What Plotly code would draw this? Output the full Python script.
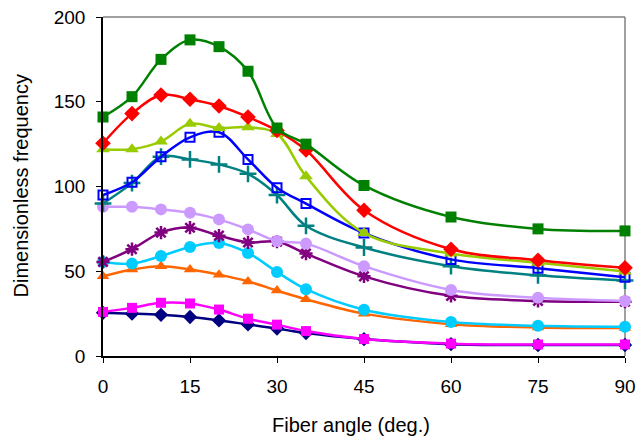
import plotly.graph_objects as go

angles = [0, 5, 10, 15, 20, 25, 30, 35, 45, 60, 75, 90]

navy = [25.5, 25, 24.3, 23, 21, 18.6, 16.2, 13.5, 10, 7, 6.5, 6.5]
magenta = [26, 28.4, 31.4, 31, 27.4, 22, 18.5, 14.7, 10, 7.3, 6.8, 6.8]
orange = [47, 51, 53, 51, 48, 44, 38.6, 33.5, 25, 18.8, 16.8, 16.5]
cyan = [55.5, 54.5, 59, 64.3, 66.7, 60.8, 49.6, 39.4, 27.3, 20, 17.8, 17.2]
purple = [55.5, 63, 72.8, 75.7, 71, 67, 67.5, 60.4, 47, 35.5, 32.5, 32]
lavender = [88, 88, 86.5, 84.5, 80.6, 74.7, 67.8, 66.3, 53, 39, 34.3, 32.5]
teal = [90, 102, 117.6, 116, 113, 107.5, 95, 76.8, 64, 53, 47.6, 44.5]
blue = [95, 102.5, 117.6, 129, 132, 116, 99.3, 89.9, 72.5, 57, 51.8, 46.5]
yellowgreen = [122, 122, 126.6, 137, 134.5, 135, 131, 106, 72.5, 60.5, 55, 49.8]
red = [125.5, 143, 154, 151.5, 147.5, 141, 133, 121.5, 86, 63, 56.5, 52]
green = [141, 153, 175, 186.5, 182.5, 168, 134.5, 125, 100.6, 82, 75, 73.8]

series = [
    (navy, "#000080", "diamond", 11, 0),
    (magenta, "#FF00FF", "square", 10, 0),
    (orange, "#FF6600", "triangle-up", 11, 0),
    (cyan, "#00CCFF", "circle", 12, 0),
    (purple, "#800080", "asterisk-open", 11, 2.5),
    (lavender, "#CC99FF", "circle", 12, 0),
    (teal, "#008080", "cross-thin-open", 12, 2.5),
    (blue, "#0000FF", "square-open", 9, 2),
    (yellowgreen, "#99CC00", "triangle-up", 12, 0),
    (red, "#FF0000", "diamond", 12, 0),
    (green, "#008000", "square", 11, 0),
]

fig = go.Figure()
for vals, col, sym, sz, lw in series:
    fig.add_trace(go.Scatter(
        x=angles, y=vals, mode="lines+markers",
        line=dict(color=col, width=2.5, shape="spline", smoothing=1),
        marker=dict(symbol=sym, size=sz, color=col, line=dict(color=col, width=lw)),
        cliponaxis=False, showlegend=False,
    ))

font = "Liberation Sans, Arial, sans-serif"
fig.update_layout(
    template="none",
    width=639, height=442,
    margin=dict(l=103, r=14, t=17, b=86, pad=0, autoexpand=False),
    paper_bgcolor="white", plot_bgcolor="white",
    font=dict(family=font, size=19, color="black"),
    xaxis=dict(range=[0, 90], tickvals=[0, 15, 30, 45, 60, 75, 90], automargin=False,
               showgrid=False, zeroline=False, showline=True, linecolor="black",
               linewidth=1.5, ticks="outside", ticklen=5, tickcolor="black",
               ticklabelstandoff=7, tickfont=dict(size=19)),
    yaxis=dict(range=[0, 200], tickvals=[0, 50, 100, 150, 200], automargin=False,
               showgrid=False, zeroline=False, showline=True, linecolor="black",
               linewidth=1.5, ticks="outside", ticklen=5, tickcolor="black",
               ticklabelstandoff=7, tickfont=dict(size=19)),
    shapes=[
        dict(type="line", xref="paper", yref="paper", x0=0, x1=1, y0=1, y1=1,
             line=dict(color="#808080", width=1.5), layer="below"),
        dict(type="line", xref="paper", yref="paper", x0=1, x1=1, y0=0, y1=1,
             line=dict(color="#808080", width=1.5), layer="below"),
    ],
    annotations=[
        dict(text="Fiber angle (deg.)", xref="paper", yref="paper",
             x=(351 - 103) / 522, y=0, xanchor="center", yanchor="middle",
             yshift=-69, showarrow=False, font=dict(size=20)),
        dict(text="Dimensionless frequency", xref="paper", yref="paper",
             x=0, y=0.5, xanchor="center", yanchor="middle", xshift=-83,
             textangle=-90, showarrow=False, font=dict(size=20)),
    ],
)

fig.write_html(
    "out.html",
    config={"displayModeBar": False},
    post_script="document.body.style.margin='0';document.body.style.overflow='hidden';",
)
